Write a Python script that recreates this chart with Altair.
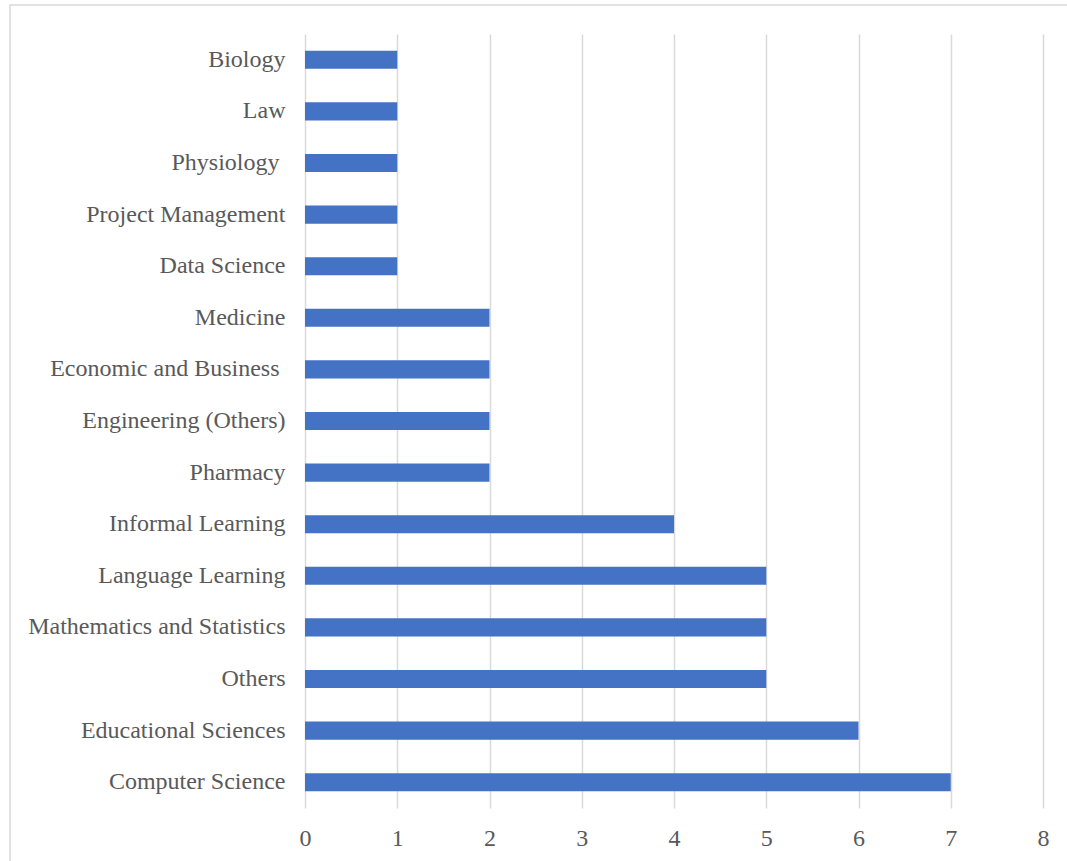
import altair as alt
import pandas as pd

categories = [
    "Biology", "Law", "Physiology \u200b", "Project Management", "Data Science",
    "Medicine", "Economic and Business \u200b", "Engineering (Others)", "Pharmacy",
    "Informal Learning", "Language Learning", "Mathematics and Statistics",
    "Others", "Educational Sciences", "Computer Science",
]
counts = [1, 1, 1, 1, 1, 2, 2, 2, 2, 4, 5, 5, 5, 6, 7]
x_ticks = [0, 1, 2, 3, 4, 5, 6, 7, 8]

df = pd.DataFrame({"field": categories, "count": counts})

FONT = "Liberation Serif"
GRAY = "#595959"

bars = alt.Chart(df).mark_bar(color="#4472C4").encode(
    x=alt.X(
        "count:Q",
        scale=alt.Scale(domain=[0, 8], nice=False, zero=True),
        axis=alt.Axis(
            values=x_ticks, title=None, grid=True, gridColor="#D9D9D9",
            gridWidth=1.5, domain=False, ticks=False, labelFont=FONT,
            labelFontSize=24, labelColor=GRAY, labelPadding=18,
            labelFlush=False, format="d",
        ),
    ),
    y=alt.Y(
        "field:N", sort=categories,
        scale=alt.Scale(paddingInner=0.65, paddingOuter=0.325),
        axis=alt.Axis(
            title=None, domain=False, ticks=False, labelFont=FONT,
            labelFontSize=24, labelColor=GRAY, labelPadding=20,
            labelLimit=400,
        ),
    ),
)

frame = alt.Chart(pd.DataFrame({"a": [0]})).mark_rect(
    fill=None, stroke="#D9D9D9", strokeWidth=1.5
).encode(
    x=alt.value(-295), x2=alt.value(900), y=alt.value(-29), y2=alt.value(900)
)

chart = alt.layer(frame, bars).properties(
    width=738, height=774,
    background="white",
    autosize=alt.AutoSizeParams(type="none"),
    padding={"left": 305, "top": 34, "right": 24, "bottom": 53},
).configure_view(stroke=None)

chart.save("out.html", embed_options={"renderer": "svg", "actions": False})
